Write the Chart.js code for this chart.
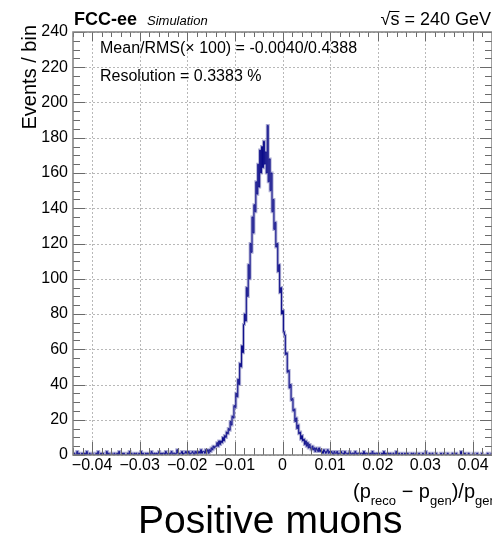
<!DOCTYPE html>
<html>
<head>
<meta charset="utf-8">
<script src="https://cdn.jsdelivr.net/npm/chart.js@4.4.1/dist/chart.umd.min.js"></script>
<style>
  html, body { margin: 0; padding: 0; background: #fff; }
  canvas { display: block; }
</style>
</head>
<body>
<canvas id="chartReso" width="492" height="538"></canvas>
<script>
// ==================================================
// Momentum resolution, positive muons (FCC-ee sim)
// ==================================================

const xMin = -0.044;
const xMax = 0.044;
const binWidth = 0.0002;

// events per bin, left to right
const counts = [
    // -0.044 .. -0.020
    0,1,0,0,2,0,1,0,0,1, 0,0,1,0,2,0,0,1,0,0, 1,0,0,0,1,0,2,0,0,1, 0,1,0,0,0,2,0,1,0,0,
    1,0,0,1,0,0,1,0,2,0, 0,1,0,1,0,0,0,1,0,2, 0,1,0,0,1,0,1,0,0,1, 0,2,0,1,0,0,1,0,1,0,
    1,0,2,1,0,1,0,1,0,1, 2,0,1,0,1,1,0,2,1,0, 1,0,1,2,0,1,1,0,1,3, 1,0,1,1,2,0,1,1,2,1,
    // core
    1,2,0,1,1,2,1,0,2,1,
    2,1,2,1,3,1,2,2,1,3,
    2,3,1,3,2,4,3,5,4,5,
    5,7,5,8,6,8,7,10,8,11,
    10,13,12,15,14,19,17,22,21,28,
    27,35,33,43,40,52,50,62,58,74,
    80,76,95,90,108,100,120,115,135,126,
    142,138,155,148,165,152,173,160,175,163,
    178,165,172,160,187,155,168,150,160,138,
    145,128,132,118,120,104,108,92,95,80,
    82,70,68,57,58,47,48,38,40,31,
    32,25,26,19,21,15,17,12,13,9,
    11,8,9,6,8,5,7,4,6,4,
    3,5,3,4,2,4,3,2,4,2,
    3,2,1,3,2,1,2,3,1,2,
    1,2,1,0,2,1,1,2,0,1,1,
    // 0.012 .. 0.044
    2,1,1,0,2,1,1,0,1,2, 1,0,1,1,0,2,1,0,1,1,
    0,1,1,0,2,0,1,1,0,1, 0,1,0,2,0,1,0,1,1,0,
    1,0,0,1,0,2,0,1,0,0, 1,0,1,0,0,1,0,0,2,0, 0,1,0,0,1,0,0,1,0,0, 1,0,0,0,1,0,1,0,0,1,
    0,0,1,0,0,0,1,0,0,2, 0,0,0,1,0,0,1,0,0,0, 1,0,0,0,0,1,0,0,1,0, 0,0,1,0,0,0,0,1,0,0,
    0,1,0,0,0,0,2,0,0,0, 1,0,0,0,1,0,0,0,0,1, 0,0,0,1,0,0,0,0,1,0, 0,0,0,0,1,0,0,0,1
];

const xTicks = [-0.04, -0.03, -0.02, -0.01, 0, 0.01, 0.02, 0.03, 0.04];
const yTicks = [0, 20, 40, 60, 80, 100, 120, 140, 160, 180, 200, 220, 240];
const statLines = ['Mean/RMS(\u00d7 100) = -0.0040/0.4388', 'Resolution = 0.3383 %'];

const FONT = '"Liberation Sans", Arial, Helvetica, sans-serif';
const LINE = '#0c0c8a';

const points = counts.map((c, i) => ({ x: xMin + (i + 0.5) * binWidth, y: c }));

function fmtX(v) {
    if (Math.abs(v) < 1e-9) return '0';
    return v.toFixed(2).replace('-', '\u2212');
}

// ==================================================
// ROOT-like frame: dotted grid, inward ticks, labels
// ==================================================
const rootFrame = {
    id: 'rootFrame',
    beforeDatasetsDraw(chart) {
        const { ctx, chartArea: a, scales: { x, y } } = chart;
        ctx.save();
        ctx.strokeStyle = '#b8b8b8';
        ctx.lineWidth = 1;
        ctx.setLineDash([2, 2]);
        ctx.beginPath();
        xTicks.forEach(v => {
            const px = Math.round(x.getPixelForValue(v)) + 0.5;
            ctx.moveTo(px, a.top); ctx.lineTo(px, a.bottom);
        });
        yTicks.forEach(v => {
            const py = Math.round(y.getPixelForValue(v)) + 0.5;
            ctx.moveTo(a.left, py); ctx.lineTo(a.right, py);
        });
        ctx.stroke();
        ctx.restore();
    },
    afterDatasetsDraw(chart) {
        const { ctx, chartArea: a, scales: { x, y } } = chart;
        ctx.save();
        ctx.strokeStyle = '#6a6a6a';
        ctx.lineWidth = 1;
        ctx.beginPath();
        for (let k = -22; k <= 22; k++) {
            const px = Math.round(x.getPixelForValue(k * 0.002)) + 0.5;
            const major = k % 5 === 0;
            ctx.moveTo(px, a.bottom); ctx.lineTo(px, a.bottom - (major ? 13 : 7));
            ctx.moveTo(px, a.top); ctx.lineTo(px, a.top + (major ? 9 : 5));
        }
        for (let v = 0; v <= 240; v += 5) {
            const py = Math.round(y.getPixelForValue(v)) + 0.5;
            const major = v % 20 === 0;
            ctx.moveTo(a.left, py); ctx.lineTo(a.left + (major ? 12 : 7), py);
            ctx.moveTo(a.right, py); ctx.lineTo(a.right - (major ? 12 : 7), py);
        }
        ctx.stroke();
        ctx.strokeStyle = '#808080';
        ctx.lineWidth = 1.5;
        ctx.strokeRect(a.left, a.top, a.right - a.left, a.bottom - a.top);
        ctx.restore();
    },
    afterDraw(chart) {
        const { ctx } = chart;
        ctx.save();
        ctx.fillStyle = '#000';
        ctx.textBaseline = 'alphabetic';

        // header
        ctx.textAlign = 'left';
        ctx.font = 'bold 18px ' + FONT;
        ctx.fillText('FCC-ee', 74, 25);
        ctx.font = 'italic 13px ' + FONT;
        ctx.fillText('Simulation', 147, 25);

        ctx.font = '18px ' + FONT;
        const energy = '\u221As = 240 GeV';
        const wAll = ctx.measureText(energy).width;
        const x0 = 491 - wAll;
        ctx.fillText(energy, x0, 25);
        const wRad = ctx.measureText('\u221A').width;
        const wS = ctx.measureText('s').width;
        ctx.strokeStyle = '#000';
        ctx.lineWidth = 1;
        ctx.beginPath();
        ctx.moveTo(x0 + wRad - 1, 11.5); ctx.lineTo(x0 + wRad + wS, 11.5);
        ctx.stroke();

        // stats box text
        ctx.font = '16px ' + FONT;
        ctx.fillText(statLines[0], 100, 53);
        ctx.fillText(statLines[1], 100, 81);

        // y title
        ctx.save();
        ctx.translate(36, 25);
        ctx.rotate(-Math.PI / 2);
        ctx.textAlign = 'right';
        ctx.font = '20px ' + FONT;
        ctx.fillText('Events / bin', 0, 0);
        ctx.restore();

        // x title with subscripts
        let cx = 353;
        const parts = [
            ['(p', 20, 498], ['reco', 13, 505], [' \u2212 p', 20, 498], ['gen', 13, 505],
            [')/p', 20, 498], ['gen', 13, 505]
        ];
        parts.forEach(([t, s, by]) => {
            ctx.font = s + 'px ' + FONT;
            ctx.fillText(t, cx, by);
            cx += ctx.measureText(t).width;
        });

        // caption
        ctx.font = '39px ' + FONT;
        ctx.fillText('Positive muons', 138, 533);
        ctx.restore();
    }
};

new Chart(document.getElementById('chartReso'), {
    type: 'line',
    data: {
        datasets: [
            { data: points, borderColor: 'rgba(105,105,175,0.55)', borderWidth: 3, stepped: 'middle', pointRadius: 0, order: 2 },
            { data: points, borderColor: LINE, borderWidth: 1, stepped: 'middle', pointRadius: 0, order: 1 },
        ],
    },
    options: {
        responsive: false,
        animation: false,
        events: [],
        layout: { padding: { top: 32, right: 0, left: 0, bottom: 0 } },
        plugins: { legend: { display: false }, tooltip: { enabled: false } },
        scales: {
            x: {
                type: 'linear', min: xMin, max: xMax, offset: false,
                grid: { display: false, drawTicks: false }, border: { display: false },
                afterBuildTicks: s => { s.ticks = xTicks.map(v => ({ value: v })); },
                afterFit: s => { s.height = 83; },
                ticks: { color: '#000', padding: 1, maxRotation: 0, autoSkip: false, font: { family: FONT, size: 16 }, callback: v => fmtX(v) },
            },
            y: {
                min: 0, max: 240,
                grid: { display: false, drawTicks: false }, border: { display: false },
                afterBuildTicks: s => { s.ticks = yTicks.map(v => ({ value: v })); },
                afterFit: s => { s.width = 73; },
                ticks: { color: '#000', padding: 5, autoSkip: false, font: { family: FONT, size: 16 } },
            },
        },
    },
    plugins: [rootFrame],
});
</script>
</body>
</html>
